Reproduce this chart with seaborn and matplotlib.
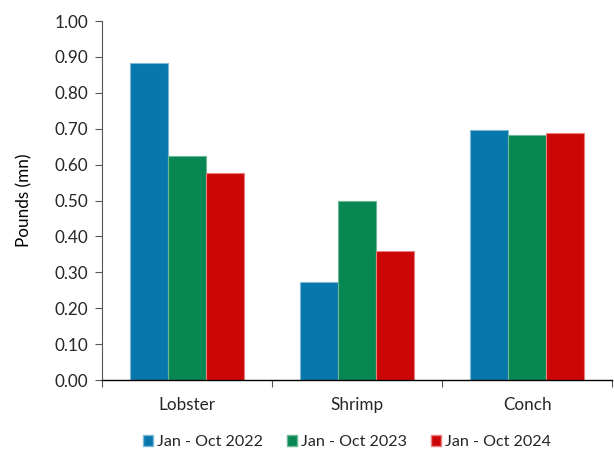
import matplotlib
matplotlib.use("Agg")
import matplotlib.pyplot as plt
import seaborn as sns
import pandas as pd
from matplotlib.ticker import FixedLocator, FormatStrFormatter
from matplotlib.patches import Patch

categories = ["Lobster", "Shrimp", "Conch"]
series = ["Jan - Oct 2022", "Jan - Oct 2023", "Jan - Oct 2024"]
v2022 = [0.883, 0.273, 0.696]
v2023 = [0.624, 0.499, 0.682]
v2024 = [0.577, 0.359, 0.688]
colors = ["#0777AC", "#078752", "#CC0606"]
edges = ["#7FB8D6", "#6DB894", "#E88080"]

rows = []
for s, vals in zip(series, [v2022, v2023, v2024]):
    for c, v in zip(categories, vals):
        rows.append({"cat": c, "series": s, "val": v})
df = pd.DataFrame(rows)

sns.set_style("white")
plt.rcParams["font.family"] = ["Lato", "DejaVu Sans"]
FS = 12.3

fig = plt.figure(figsize=(6.14, 4.53), dpi=100)
ax = fig.add_axes([0.166, 0.161, 0.831, 0.7926])
sns.barplot(data=df, x="cat", y="val", hue="series", order=categories,
            hue_order=series, palette=colors, width=0.67, ax=ax,
            saturation=1, legend=False, linewidth=0.8)
for i, cont in enumerate(ax.containers):
    for p in cont:
        p.set_edgecolor(edges[i])

ax.set_xlim(-0.5, 2.5)
ax.set_ylim(0, 1.0)
ax.yaxis.set_major_locator(FixedLocator([i / 10 for i in range(11)]))
ax.yaxis.set_major_formatter(FormatStrFormatter("%.2f"))
ax.set_xlabel("")
ax.set_ylabel("Pounds (mn)", fontsize=FS, color="#000000", labelpad=16)
ax.tick_params(axis="y", which="major", length=5, width=0.8, color="#555555",
               direction="out", labelsize=FS, left=True, pad=5)
ax.tick_params(axis="x", which="major", length=0, labelsize=FS, pad=12)
ax.xaxis.set_minor_locator(FixedLocator([-0.5, 0.5, 1.5, 2.5]))
ax.tick_params(axis="x", which="minor", length=5, width=0.8, color="#555555",
               direction="out", bottom=True)
for s in ["top", "right"]:
    ax.spines[s].set_visible(False)
ax.spines["left"].set_color("#555555")
ax.spines["left"].set_linewidth(0.8)
ax.spines["bottom"].set_color("#000000")
ax.spines["bottom"].set_linewidth(1.0)

handles = [Patch(facecolor=c, edgecolor=e, label=s) for c, e, s in zip(colors, edges, series)]
fig.legend(handles=handles, loc="center", bbox_to_anchor=(0.565, 0.024),
           ncol=3, frameon=False, fontsize=11.6, handlelength=0.65,
           handleheight=0.65, handletextpad=0.25, columnspacing=1.45)

fig.savefig("out.png", dpi=100)
